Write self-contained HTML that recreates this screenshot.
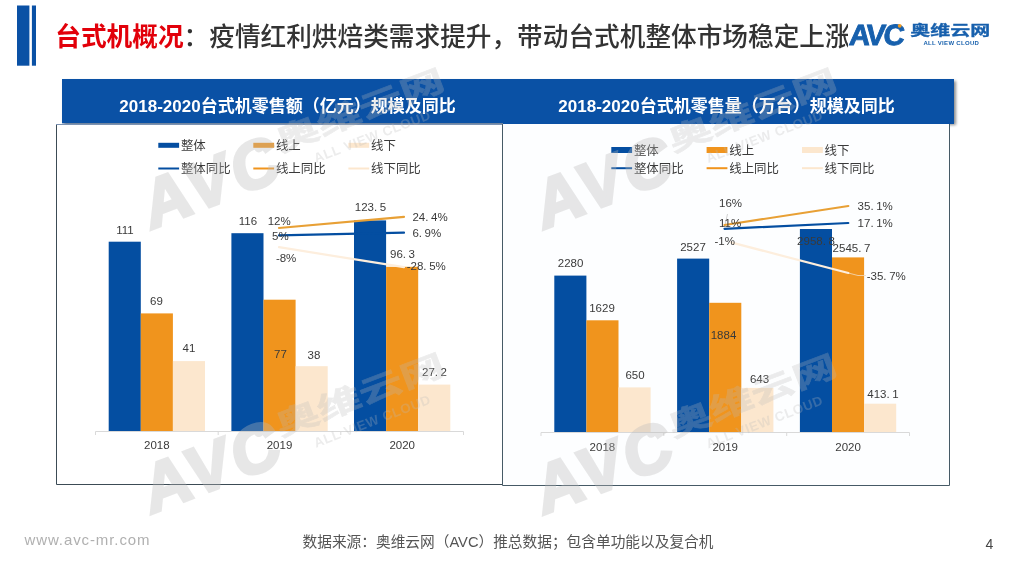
<!DOCTYPE html>
<html lang="zh-CN">
<head>
<meta charset="utf-8">
<title>台式机概况</title>
<style>
html,body{margin:0;padding:0;background:#fff;}
body{width:1013px;height:572px;overflow:hidden;position:relative;font-family:"Liberation Sans", "Noto Sans CJK SC", sans-serif;}
svg{position:absolute;left:0;top:0;display:block;}
text{font-family:"Liberation Sans", "Noto Sans CJK SC", sans-serif;}
.lbl{font-size:11.5px;fill:#3a3a3a;}
.leg{font-size:12.45px;fill:#3a3a3a;}
.ax{font-size:11.5px;fill:#3a3a3a;}
.bt{font-size:17px;font-weight:bold;fill:#fff;}
</style>
</head>
<body>
<svg width="1013" height="572" viewBox="0 0 1013 572">
<defs>
<filter id="sh" x="-5%" y="-20%" width="110%" height="150%"><feGaussianBlur in="SourceAlpha" stdDeviation="1.6"/><feOffset dx="2" dy="2"/><feComponentTransfer><feFuncA type="linear" slope="0.45"/></feComponentTransfer><feMerge><feMergeNode/><feMergeNode in="SourceGraphic"/></feMerge></filter>
</defs>
<rect width="1013" height="572" fill="#fff"/>

<rect x="17" y="5.5" width="12.4" height="60.2" fill="#0a51a5"/>
<rect x="31.9" y="5.5" width="4.1" height="60.2" fill="#0a51a5"/>
<text x="55.3" y="45.9" font-size="25.67" font-weight="500" fill="#333"><tspan font-weight="bold" fill="#e2000a">台式机概况</tspan>：疫情红利烘焙类需求提升，带动台式机整体市场稳定上涨</text>
<g transform="translate(849 45) rotate(0) scale(1)">
<rect x="-1" y="-33" width="148" height="38" fill="#fff"/>
<text transform="skewX(-5)" x="-0.6" y="0" font-size="29.3" font-weight="bold" letter-spacing="-2.1" fill="#1760ad" stroke="#1760ad" stroke-width="0.9" stroke-linejoin="miter">AVC</text>
<circle cx="50.7" cy="-19.2" r="1.9" fill="#f39a1e"/>
<text transform="translate(61.3 -10.3) scale(1.48 1)" font-size="13.5" font-weight="bold" fill="#1760ad" stroke="#1760ad" stroke-width="0.3" opacity="1">奥维云网</text>
<text x="74.4" y="-0.2" font-size="6" font-weight="bold" letter-spacing="0.3" fill="#1760ad" opacity="1">ALL VIEW CLOUD</text>
</g>
<rect x="62" y="79" width="892" height="44" fill="#0a51a5" filter="url(#sh)"/>
<rect x="56.5" y="124.5" width="446" height="360" fill="#fff"/>
<path d="M56.5 124 V484.5 H502.5 V124" fill="none" stroke="#3c4b55" stroke-width="1"/>
<line x1="56" y1="124.5" x2="503" y2="124.5" stroke="#7c93b3" stroke-width="1"/>
<rect x="502.5" y="124" width="447" height="361.5" fill="#fdfeff"/>
<path d="M502.5 124 V485.5 H949.5 V124" fill="none" stroke="#465a66" stroke-width="1"/>
<rect x="503" y="120" width="451" height="4" fill="#0a51a5"/>
<rect x="62" y="79" width="892" height="44.3" fill="#0a51a5"/>
<text class="bt" x="287.5" y="111.6" text-anchor="middle">2018-2020台式机零售额（亿元）规模及同比</text>
<text class="bt" x="726.5" y="111.8" text-anchor="middle">2018-2020台式机零售量（万台）规模及同比</text>
<line x1="95.5" y1="431.5" x2="463.5" y2="431.5" stroke="#d9d9d9" stroke-width="1"/>
<line x1="95.5" y1="431.5" x2="95.5" y2="435" stroke="#d9d9d9" stroke-width="1"/>
<line x1="218.2" y1="431.5" x2="218.2" y2="435" stroke="#d9d9d9" stroke-width="1"/>
<line x1="340.8" y1="431.5" x2="340.8" y2="435" stroke="#d9d9d9" stroke-width="1"/>
<line x1="463.5" y1="431.5" x2="463.5" y2="435" stroke="#d9d9d9" stroke-width="1"/>
<rect x="108.7" y="241.7" width="32.1" height="189.3" fill="#044ea1"/>
<rect x="140.8" y="313.4" width="32.1" height="117.6" fill="#f0941d"/>
<rect x="172.9" y="361.1" width="32.1" height="69.9" fill="#fce7ce"/>
<rect x="231.4" y="233.2" width="32.1" height="197.8" fill="#044ea1"/>
<rect x="263.5" y="299.7" width="32.1" height="131.3" fill="#f0941d"/>
<rect x="295.6" y="366.2" width="32.1" height="64.8" fill="#fce7ce"/>
<rect x="354.0" y="220.4" width="32.1" height="210.6" fill="#044ea1"/>
<rect x="386.1" y="266.8" width="32.1" height="164.2" fill="#f0941d"/>
<rect x="418.2" y="384.6" width="32.1" height="46.4" fill="#fce7ce"/>

<line x1="279" y1="228" x2="404" y2="216.8" stroke="#e8a035" stroke-width="2.2" stroke-linecap="round"/>
<line x1="279" y1="235.4" x2="404" y2="232.7" stroke="#044ea1" stroke-width="2.2" stroke-linecap="round"/>
<line x1="279" y1="247.2" x2="404" y2="267.2" stroke="#fdeedd" stroke-width="2.2" stroke-linecap="round"/>
<text class="lbl" x="125" y="233.9" text-anchor="middle">111</text>
<text class="lbl" x="156.5" y="305.0" text-anchor="middle">69</text>
<text class="lbl" x="189" y="351.6" text-anchor="middle">41</text>
<text class="lbl" x="248" y="224.9" text-anchor="middle">116</text>
<text class="lbl" x="267.7" y="224.9" text-anchor="start">12%</text>
<text class="lbl" x="272" y="240.3" text-anchor="start">5%</text>
<text class="lbl" x="275.9" y="262.1" text-anchor="start">-8%</text>
<text class="lbl" x="280.5" y="357.6" text-anchor="middle">77</text>
<text class="lbl" x="314" y="359.1" text-anchor="middle">38</text>
<text class="lbl" x="370.5" y="211.1" text-anchor="middle">123.<tspan dx="2.6">5</tspan></text>
<text class="lbl" x="412.4" y="220.9" text-anchor="start">24.<tspan dx="2.6">4%</tspan></text>
<text class="lbl" x="412.4" y="237.1" text-anchor="start">6.<tspan dx="2.6">9%</tspan></text>
<text class="lbl" x="402.5" y="258.4" text-anchor="middle">96.<tspan dx="2.6">3</tspan></text>
<text class="lbl" x="406.7" y="269.5" text-anchor="start">-28.<tspan dx="2.6">5%</tspan></text>
<text class="lbl" x="434.5" y="376.1" text-anchor="middle">27.<tspan dx="2.6">2</tspan></text>
<text class="ax" x="156.8" y="449.1" text-anchor="middle">2018</text>
<text class="ax" x="279.5" y="449.1" text-anchor="middle">2019</text>
<text class="ax" x="402.2" y="449.1" text-anchor="middle">2020</text>
<rect x="158.3" y="142.8" width="20.8" height="5" fill="#044ea1"/>
<text class="leg" x="180.9" y="149.8">整体</text>
<line x1="158.3" y1="168.5" x2="179.10000000000002" y2="168.5" stroke="#044ea1" stroke-width="2"/>
<text class="leg" x="180.9" y="173.0">整体同比</text>
<rect x="253.3" y="142.8" width="20.8" height="5" fill="#f0941d"/>
<text class="leg" x="275.90000000000003" y="149.8">线上</text>
<line x1="253.3" y1="168.5" x2="274.1" y2="168.5" stroke="#f0941d" stroke-width="2"/>
<text class="leg" x="275.90000000000003" y="173.0">线上同比</text>
<rect x="348.4" y="142.8" width="20.8" height="5" fill="#fce7ce"/>
<text class="leg" x="371.0" y="149.8">线下</text>
<line x1="348.4" y1="168.5" x2="369.2" y2="168.5" stroke="#fce7ce" stroke-width="2"/>
<text class="leg" x="371.0" y="173.0">线下同比</text>
<line x1="541" y1="432.5" x2="909.5" y2="432.5" stroke="#d9d9d9" stroke-width="1"/>
<line x1="541.0" y1="432.5" x2="541.0" y2="436" stroke="#d9d9d9" stroke-width="1"/>
<line x1="663.8" y1="432.5" x2="663.8" y2="436" stroke="#d9d9d9" stroke-width="1"/>
<line x1="786.7" y1="432.5" x2="786.7" y2="436" stroke="#d9d9d9" stroke-width="1"/>
<line x1="909.5" y1="432.5" x2="909.5" y2="436" stroke="#d9d9d9" stroke-width="1"/>
<rect x="554.3" y="275.6" width="32.1" height="156.4" fill="#044ea1"/>
<rect x="586.4" y="320.3" width="32.1" height="111.7" fill="#f0941d"/>
<rect x="618.5" y="387.4" width="32.1" height="44.6" fill="#fce7ce"/>
<rect x="677.1" y="258.6" width="32.1" height="173.4" fill="#044ea1"/>
<rect x="709.2" y="302.8" width="32.1" height="129.2" fill="#f0941d"/>
<rect x="741.3" y="387.9" width="32.1" height="44.1" fill="#fce7ce"/>
<rect x="799.9" y="229.0" width="32.1" height="203.0" fill="#044ea1"/>
<rect x="832.0" y="257.4" width="32.1" height="174.6" fill="#f0941d"/>
<rect x="864.1" y="403.7" width="32.1" height="28.3" fill="#fce7ce"/>
<path d="M727.5 214 L725 225" stroke="#bbb" stroke-width="0.7" fill="none"/><path d="M848.3 273 L858 275.5 L866 275.5" stroke="#f3dcc0" stroke-width="0.8" fill="none"/>
<line x1="724.5" y1="225" x2="848.3" y2="206" stroke="#e8a035" stroke-width="2.2" stroke-linecap="round"/>
<line x1="724.5" y1="228.8" x2="848.3" y2="223" stroke="#044ea1" stroke-width="2.2" stroke-linecap="round"/>
<line x1="731" y1="242.4" x2="848.3" y2="273" stroke="#fdeedd" stroke-width="2.2" stroke-linecap="round"/>
<text class="lbl" x="570.6" y="267.1" text-anchor="middle">2280</text>
<text class="lbl" x="602" y="311.6" text-anchor="middle">1629</text>
<text class="lbl" x="635" y="379.1" text-anchor="middle">650</text>
<text class="lbl" x="693" y="250.9" text-anchor="middle">2527</text>
<text class="lbl" x="719" y="206.8" text-anchor="start">16%</text>
<text class="lbl" x="719" y="227.1" text-anchor="start">11%</text>
<text class="lbl" x="714.5" y="245.1" text-anchor="start">-1%</text>
<text class="lbl" x="723.5" y="339.1" text-anchor="middle">1884</text>
<text class="lbl" x="759.5" y="382.6" text-anchor="middle">643</text>
<text class="lbl" x="816" y="245.0" text-anchor="middle">2958.<tspan dx="2.6">8</tspan></text>
<text class="lbl" x="851.5" y="252.1" text-anchor="middle">2545.<tspan dx="2.6">7</tspan></text>
<text class="lbl" x="857.6" y="210.1" text-anchor="start">35.<tspan dx="2.6">1%</tspan></text>
<text class="lbl" x="857.6" y="227.1" text-anchor="start">17.<tspan dx="2.6">1%</tspan></text>
<text class="lbl" x="866.7" y="279.9" text-anchor="start">-35.<tspan dx="2.6">7%</tspan></text>
<text class="lbl" x="883" y="397.6" text-anchor="middle">413.<tspan dx="2.6">1</tspan></text>
<text class="ax" x="602.4" y="451.1" text-anchor="middle">2018</text>
<text class="ax" x="725.2" y="451.1" text-anchor="middle">2019</text>
<text class="ax" x="848.1" y="451.1" text-anchor="middle">2020</text>
<rect x="611.3" y="147.0" width="20.8" height="6" fill="#044ea1"/>
<text class="leg" x="633.9" y="154.5">整体</text>
<line x1="611.3" y1="168.2" x2="632.0999999999999" y2="168.2" stroke="#044ea1" stroke-width="2"/>
<text class="leg" x="633.9" y="172.7">整体同比</text>
<rect x="706.6" y="147.0" width="20.8" height="6" fill="#f0941d"/>
<text class="leg" x="729.2" y="154.5">线上</text>
<line x1="706.6" y1="168.2" x2="727.4" y2="168.2" stroke="#f0941d" stroke-width="2"/>
<text class="leg" x="729.2" y="172.7">线上同比</text>
<rect x="802" y="147.0" width="20.8" height="6" fill="#fce7ce"/>
<text class="leg" x="824.6" y="154.5">线下</text>
<line x1="802" y1="168.2" x2="822.8" y2="168.2" stroke="#fce7ce" stroke-width="2"/>
<text class="leg" x="824.6" y="172.7">线下同比</text>
<g transform="translate(151.6 229) rotate(-21) scale(2.23)" opacity="0.34">
<text transform="skewX(-8.5)" x="-0.9" y="0" font-size="29.8" font-weight="bold" letter-spacing="1.6" fill="#bbbbbb" stroke="#bbbbbb" stroke-width="1.5" stroke-linejoin="miter">AVC</text>
<circle cx="57.9" cy="-16.7" r="2.0" fill="#bbbbbb"/>
<text transform="translate(66.3 -11.3) scale(1.48 1)" font-size="13.5" font-weight="bold" fill="#bbbbbb" stroke="#bbbbbb" stroke-width="0.3" opacity="0.8">奥维云网</text>
<text x="79.4" y="-1.2" font-size="6" font-weight="bold" letter-spacing="0.3" fill="#bbbbbb" opacity="0.8">ALL VIEW CLOUD</text>
</g>
<g transform="translate(151.6 513.6) rotate(-21) scale(2.23)" opacity="0.34">
<text transform="skewX(-8.5)" x="-0.9" y="0" font-size="29.8" font-weight="bold" letter-spacing="1.6" fill="#bbbbbb" stroke="#bbbbbb" stroke-width="1.5" stroke-linejoin="miter">AVC</text>
<circle cx="57.9" cy="-16.7" r="2.0" fill="#bbbbbb"/>
<text transform="translate(66.3 -11.3) scale(1.48 1)" font-size="13.5" font-weight="bold" fill="#bbbbbb" stroke="#bbbbbb" stroke-width="0.3" opacity="0.8">奥维云网</text>
<text x="79.4" y="-1.2" font-size="6" font-weight="bold" letter-spacing="0.3" fill="#bbbbbb" opacity="0.8">ALL VIEW CLOUD</text>
</g>
<g transform="translate(543.9 229) rotate(-21) scale(2.23)" opacity="0.34">
<text transform="skewX(-8.5)" x="-0.9" y="0" font-size="29.8" font-weight="bold" letter-spacing="1.6" fill="#bbbbbb" stroke="#bbbbbb" stroke-width="1.5" stroke-linejoin="miter">AVC</text>
<circle cx="57.9" cy="-16.7" r="2.0" fill="#bbbbbb"/>
<text transform="translate(66.3 -11.3) scale(1.48 1)" font-size="13.5" font-weight="bold" fill="#bbbbbb" stroke="#bbbbbb" stroke-width="0.3" opacity="0.8">奥维云网</text>
<text x="79.4" y="-1.2" font-size="6" font-weight="bold" letter-spacing="0.3" fill="#bbbbbb" opacity="0.8">ALL VIEW CLOUD</text>
</g>
<g transform="translate(543.9 514.4) rotate(-21) scale(2.23)" opacity="0.34">
<text transform="skewX(-8.5)" x="-0.9" y="0" font-size="29.8" font-weight="bold" letter-spacing="1.6" fill="#bbbbbb" stroke="#bbbbbb" stroke-width="1.5" stroke-linejoin="miter">AVC</text>
<circle cx="57.9" cy="-16.7" r="2.0" fill="#bbbbbb"/>
<text transform="translate(66.3 -11.3) scale(1.48 1)" font-size="13.5" font-weight="bold" fill="#bbbbbb" stroke="#bbbbbb" stroke-width="0.3" opacity="0.8">奥维云网</text>
<text x="79.4" y="-1.2" font-size="6" font-weight="bold" letter-spacing="0.3" fill="#bbbbbb" opacity="0.8">ALL VIEW CLOUD</text>
</g>
<text x="24.5" y="544.5" font-size="15" letter-spacing="0.9" fill="#b0b0b0">www.avc-mr.com</text>
<text x="508" y="547.3" font-size="14.7" fill="#555" text-anchor="middle">数据来源：奥维云网（AVC）推总数据；包含单功能以及复合机</text>
<text x="989.5" y="548.5" font-size="14" fill="#444" text-anchor="middle">4</text>
</svg>
</body>
</html>
